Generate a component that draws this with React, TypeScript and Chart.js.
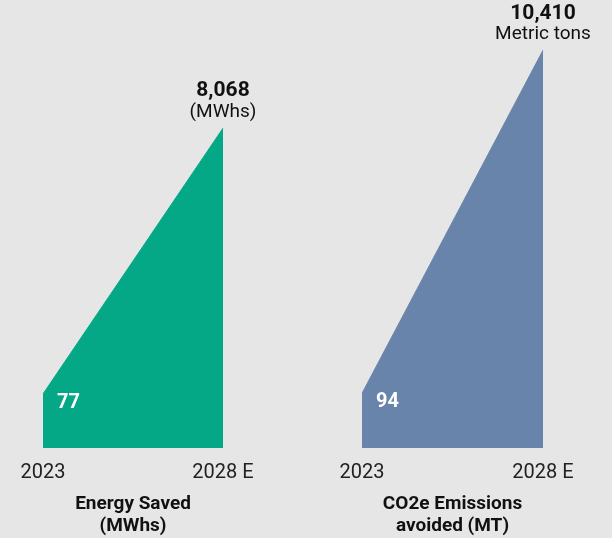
import React, { useEffect, useRef } from "react";
import { Chart, registerables } from "chart.js";

Chart.register(...registerables);

const years = ["2023", "2028 E"];
const energySaved = [77, 8068];
const co2Avoided = [94, 10410];
const energyUnit = "(MWhs)";
const co2Unit = "Metric tons";
const energyTitle = ["Energy Saved", "(MWhs)"];
const co2Title = ["CO2e Emissions", "avoided (MT)"];
const yMin = -1550;
const yMax = 11500;

const FONT = "Roboto";
const BG = "#e6e6e6";

function makeLabelPlugin(unit: string) {
  return {
    id: "panelLabels",
    afterDatasetsDraw(chart: any) {
      const meta = chart.getDatasetMeta(0);
      const ds = chart.data.datasets[0];
      const first = meta.data[0];
      const last = meta.data[meta.data.length - 1];
      const ctx = chart.ctx;
      ctx.save();
      ctx.textBaseline = "middle";
      ctx.fillStyle = "#ffffff";
      ctx.textAlign = "left";
      ctx.font = `bold 20px ${FONT}`;
      ctx.fillText(Number(ds.data[0]).toLocaleString("en-US"), first.x + 14, first.y + 9);
      ctx.fillStyle = "#111111";
      ctx.textAlign = "center";
      ctx.font = `bold 21px ${FONT}`;
      ctx.fillText(Number(ds.data[ds.data.length - 1]).toLocaleString("en-US"), last.x, last.y - 37);
      ctx.font = `19px ${FONT}`;
      ctx.fillText(unit, last.x, last.y - 16);
      ctx.restore();
    },
  };
}

function Panel(props: {
  values: number[];
  color: string;
  unit: string;
  title: string[];
  padLeft: number;
  padRight: number;
}) {
  const ref = useRef<HTMLCanvasElement>(null);
  useEffect(() => {
    if (!ref.current) return;
    const chart = new Chart(ref.current, {
      type: "line",
      data: {
        labels: years,
        datasets: [
          {
            data: props.values,
            borderColor: props.color,
            backgroundColor: props.color,
            borderWidth: 1,
            fill: "start",
            tension: 0,
            pointRadius: 0,
          },
        ],
      },
      options: {
        animation: false,
        responsive: false,
        maintainAspectRatio: false,
        layout: { padding: { top: 14, left: props.padLeft, right: props.padRight, bottom: 0 } },
        scales: {
          x: {
            offset: false,
            grid: { display: false, drawTicks: false },
            border: { display: false },
            ticks: { color: "#222", font: { family: FONT, size: 20 }, padding: 13, maxRotation: 0 },
            afterFit(scale: any) {
              scale.height = 34;
            },
          },
          y: { display: false, min: yMin, max: yMax },
        },
        plugins: {
          legend: { display: false },
          tooltip: { enabled: false },
          title: {
            display: true,
            position: "bottom",
            text: props.title,
            color: "#111",
            font: { family: FONT, size: 19, weight: "bold", lineHeight: 1.13 },
            padding: { top: 11.5, bottom: 1.5 },
          },
        },
      },
      plugins: [makeLabelPlugin(props.unit)],
    } as any);
    return () => chart.destroy();
  }, []);
  return <canvas ref={ref} width={306} height={538} style={{ width: 306, height: 538, display: "block" }} />;
}

export default function App() {
  return (
    <div
      style={{
        position: "fixed",
        left: 0,
        top: 0,
        width: 612,
        height: 538,
        background: BG,
        display: "flex",
      }}
    >
      <Panel values={energySaved} color="#04a886" unit={energyUnit} title={energyTitle} padLeft={43} padRight={83} />
      <Panel values={co2Avoided} color="#6884ab" unit={co2Unit} title={co2Title} padLeft={56} padRight={69} />
    </div>
  );
}
